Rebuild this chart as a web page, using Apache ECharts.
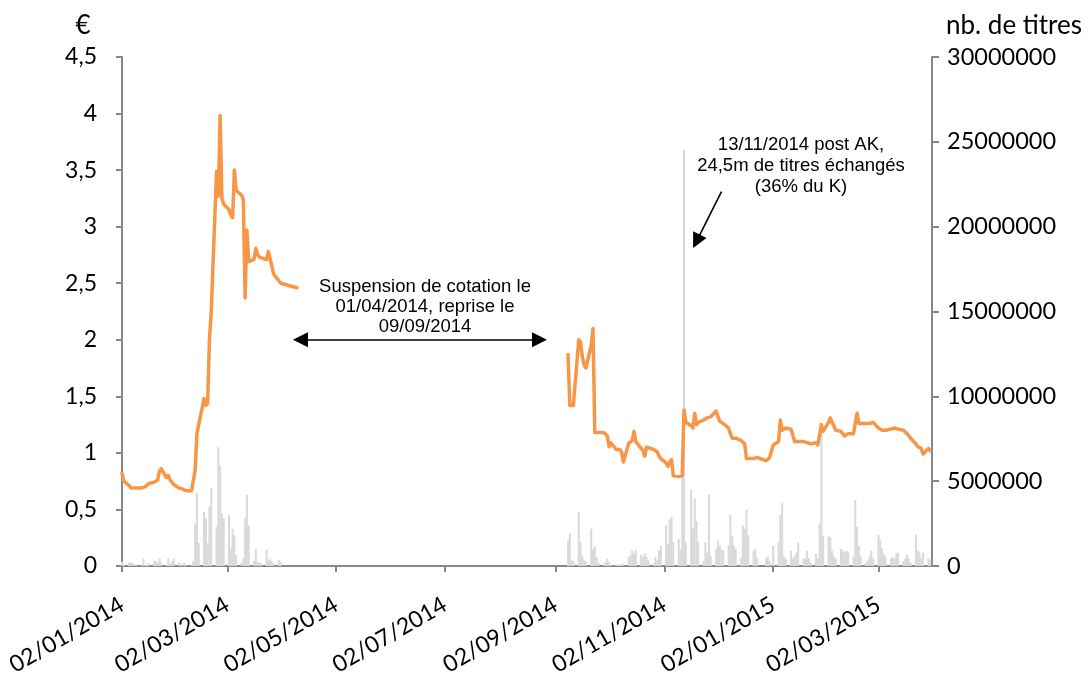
<!DOCTYPE html>
<html>
<head>
<meta charset="utf-8">
<script src="https://cdn.jsdelivr.net/npm/echarts@6/dist/echarts.min.js"></script>
<style>
html,body{margin:0;padding:0;background:#ffffff;}
#chart{width:1090px;height:677px;}
</style>
</head>
<body>
<div id="chart"></div>
<script>
// ---------- DATA ----------
const xTickLabels = ['02/01/2014','02/03/2014','02/05/2014','02/07/2014','02/09/2014','02/11/2014','02/01/2015','02/03/2015'];
const priceTicks = [0, 0.5, 1, 1.5, 2, 2.5, 3, 3.5, 4, 4.5];
const volumeTicks = [0, 5000000, 10000000, 15000000, 20000000, 25000000, 30000000];

// Period 1: before the suspension
const datesA = [
  '2014-01-02','2014-01-03','2014-01-06','2014-01-07','2014-01-08','2014-01-09','2014-01-10','2014-01-13','2014-01-14','2014-01-15','2014-01-16','2014-01-17','2014-01-20','2014-01-21','2014-01-22','2014-01-23','2014-01-24','2014-01-27','2014-01-28','2014-01-29','2014-01-30','2014-01-31',
  '2014-02-03','2014-02-04','2014-02-05','2014-02-06','2014-02-07','2014-02-10','2014-02-11','2014-02-12','2014-02-13','2014-02-14','2014-02-17','2014-02-18','2014-02-19','2014-02-20','2014-02-21','2014-02-24','2014-02-25','2014-02-26','2014-02-27','2014-02-28',
  '2014-03-03','2014-03-04','2014-03-05','2014-03-06','2014-03-07','2014-03-10','2014-03-11','2014-03-12','2014-03-13','2014-03-14','2014-03-17','2014-03-18','2014-03-19','2014-03-20','2014-03-21','2014-03-24','2014-03-25','2014-03-26','2014-03-27','2014-03-28','2014-03-31',
  '2014-04-01','2014-04-10'
];
const priceA = [
  0.82,0.75,0.71,0.69,0.69,0.69,0.69,0.69,0.70,0.70,0.71,0.73,0.74,0.74,0.76,0.84,0.86,0.78,0.80,0.76,0.745,0.72,
  0.69,0.69,0.68,0.67,0.665,0.665,0.67,0.85,1.17,1.25,1.48,1.42,1.44,2.00,2.24,3.49,3.27,3.98,3.25,3.20,
  3.15,3.10,3.08,3.50,3.32,3.28,3.24,2.37,2.97,2.69,2.71,2.81,2.75,2.73,2.72,2.71,2.78,2.78,2.65,2.58,2.52,
  2.50,2.46
];
const volumeA_M = [
  0.25,0.1,0.2,0.2,0.15,0.05,0.1,0.1,0.45,0.05,0.1,0.15,0.3,0.3,0.2,0.45,0.2,0.1,0.45,0.1,0.3,0.45,
  0.2,0.1,0.1,0.2,0.05,0.1,0.3,2.5,4.3,1.35,3.2,2.8,1.35,3.5,4.6,2.3,7.0,5.9,3.1,2.8,
  3.0,1.05,2.2,1.8,0.65,0.2,0.45,2.8,4.2,2.4,0.3,1.0,0.25,0.2,0.15,0.95,0.35,0.4,0.3,0.15,0.35,
  0.25,null
];

// Period 2: after trading resumed
const datesB = [
  '2014-09-09','2014-09-10','2014-09-11','2014-09-12','2014-09-15','2014-09-16','2014-09-17','2014-09-18','2014-09-19','2014-09-22','2014-09-23','2014-09-24','2014-09-25','2014-09-26','2014-09-29','2014-09-30',
  '2014-10-01','2014-10-02','2014-10-03','2014-10-06','2014-10-07','2014-10-08','2014-10-09','2014-10-10','2014-10-13','2014-10-14','2014-10-15','2014-10-16','2014-10-17','2014-10-20','2014-10-21','2014-10-22','2014-10-23','2014-10-24','2014-10-27','2014-10-28','2014-10-29','2014-10-30','2014-10-31',
  '2014-11-03','2014-11-04','2014-11-05','2014-11-06','2014-11-07','2014-11-10','2014-11-11','2014-11-12','2014-11-13','2014-11-14','2014-11-17','2014-11-18','2014-11-19','2014-11-20','2014-11-21','2014-11-24','2014-11-25','2014-11-26','2014-11-27','2014-11-28',
  '2014-12-01','2014-12-02','2014-12-03','2014-12-04','2014-12-05','2014-12-08','2014-12-09','2014-12-10','2014-12-11','2014-12-12','2014-12-15','2014-12-16','2014-12-17','2014-12-18','2014-12-19','2014-12-22','2014-12-23','2014-12-24','2014-12-29','2014-12-30','2014-12-31',
  '2015-01-02','2015-01-05','2015-01-06','2015-01-07','2015-01-08','2015-01-09','2015-01-12','2015-01-13','2015-01-14','2015-01-15','2015-01-16','2015-01-19','2015-01-20','2015-01-21','2015-01-22','2015-01-23','2015-01-26','2015-01-27','2015-01-28','2015-01-29','2015-01-30',
  '2015-02-02','2015-02-03','2015-02-04','2015-02-05','2015-02-06','2015-02-09','2015-02-10','2015-02-11','2015-02-12','2015-02-13','2015-02-16','2015-02-17','2015-02-18','2015-02-19','2015-02-20','2015-02-23','2015-02-24','2015-02-25','2015-02-26','2015-02-27',
  '2015-03-02','2015-03-03','2015-03-04','2015-03-05','2015-03-06','2015-03-09','2015-03-10','2015-03-11','2015-03-12','2015-03-13','2015-03-16','2015-03-17','2015-03-18','2015-03-19','2015-03-20','2015-03-23','2015-03-24','2015-03-25','2015-03-26','2015-03-27','2015-03-30','2015-03-31'
];
const priceB = [
  1.87,1.42,1.42,1.42,2.00,1.98,1.85,1.78,1.75,1.95,2.10,1.18,1.18,1.18,1.18,1.18,
  1.15,1.055,1.09,1.03,1.04,1.03,1.01,0.92,1.085,1.10,1.11,1.19,1.10,1.04,1.02,0.97,1.05,1.05,1.03,1.02,1.01,0.97,0.95,
  0.91,0.88,0.92,0.94,0.80,0.79,0.80,0.80,1.38,1.27,1.24,1.22,1.35,1.25,1.27,1.29,1.30,1.31,1.31,1.32,
  1.37,1.38,1.28,1.27,1.26,1.22,1.17,1.13,1.13,1.13,1.11,1.10,1.08,0.95,0.94,0.95,0.96,0.96,0.93,0.92,0.96,
  1.07,1.10,1.29,1.20,1.21,1.22,1.21,1.22,1.10,1.10,1.10,1.10,1.09,1.09,1.09,1.08,1.09,1.07,1.06,1.25,1.19,
  1.27,1.31,1.27,1.24,1.20,1.19,1.18,1.15,1.16,1.17,1.17,1.17,1.35,1.26,1.26,1.26,1.26,1.26,1.27,1.27,
  1.22,1.21,1.20,1.20,1.20,1.21,1.21,1.22,1.22,1.21,1.20,1.19,1.17,1.15,1.13,1.08,1.055,1.05,1.04,0.99,1.04,1.02
];
const volumeB_M = [
  1.5,1.9,0.33,0.28,3.2,1.4,0.6,0.33,0.24,2.2,1.0,1.15,0.53,0.2,0.14,0.24,
  0.43,0.24,0.08,0.08,0.08,0.08,0.08,0.14,0.53,0.63,0.92,0.73,0.92,0.67,0.53,0.73,0.53,0.33,0.15,0.53,0.33,0.92,1.2,
  2.4,1.3,2.75,2.9,1.4,1.6,1.0,5.35,24.5,1.4,4.5,2.2,4.0,2.65,1.4,0.3,1.4,0.8,4.2,0.6,
  1.0,1.5,1.2,1.0,0.9,1.2,3.0,1.8,1.2,1.0,0.5,2.4,2.2,3.3,1.8,0.9,1.0,0.45,0.45,0.55,0.3,
  1.2,1.4,3.0,3.7,0.55,0.45,0.9,0.45,0.63,0.8,1.4,0.45,0.45,0.9,0.45,0.2,0.73,0.45,2.5,8.0,1.8,
  1.75,1.7,0.9,0.6,0.45,1.0,0.9,0.8,0.9,0.8,0.55,3.9,2.3,1.2,0.55,0.2,0.35,0.55,0.9,0.45,
  1.85,1.5,1.05,0.73,0.55,0.45,0.55,0.45,0.73,0.8,0.3,0.45,0.67,0.45,0.2,1.85,0.9,0.8,0.45,0.8,0.45,0.35
];

// Annotations
const suspensionText = 'Suspension de cotation le\n01/04/2014, reprise le\n09/09/2014';
const suspensionArrow = { from: '2014-04-12', to: '2014-08-24', price: 2.0 };
const spikeText = '13/11/2014 post AK,\n24,5m de titres échangés\n(36% du K)';
const spikeArrow = { from: '2014-12-04', fromPrice: 3.31, to: '2014-11-20', toPrice: 2.87 };
const axisStart = '2014-01-02';
const axisEnd = '2015-04-01';

// ---------- HELPERS ----------
function iso(s) { const p = s.split('-').map(Number); return new Date(p[0], p[1] - 1, p[2]).getTime(); }
function dmy(s) { const p = s.split('/').map(Number); return new Date(p[2], p[1] - 1, p[0]).getTime(); }
const xTickValues = xTickLabels.map(dmy);
function pairs(dates, vals, mult) { return dates.map((d, i) => [iso(d), vals[i] == null ? null : vals[i] * mult]); }
function labelFor(v) {
  for (let i = 0; i < xTickValues.length; i++) { if (Math.abs(xTickValues[i] - v) < 3600000) return xTickLabels[i]; }
  return '';
}

const AXIS_GREY = '#878787';
const LABEL_FONT = 'Lato';

const chart = echarts.init(document.getElementById('chart'), null, { renderer: 'canvas' });
const option = {
  backgroundColor: '#ffffff',
  animation: false,
  grid: { left: 122, right: 158, top: 57, bottom: 111, containLabel: false, outerBoundsMode: 'none' },
  xAxis: {
    type: 'value',
    min: iso(axisStart),
    max: iso(axisEnd),
    scale: true,
    axisLine: { show: true, onZero: false, lineStyle: { color: AXIS_GREY, width: 2 } },
    axisTick: { show: true, customValues: xTickValues, length: 6, lineStyle: { color: AXIS_GREY, width: 2 } },
    axisLabel: {
      customValues: xTickValues,
      rotate: 30,
      margin: 37,
      color: '#000',
      fontFamily: LABEL_FONT,
      fontSize: 23,
      formatter: labelFor
    },
    splitLine: { show: false }
  },
  yAxis: [
    {
      type: 'value', min: priceTicks[0], max: priceTicks[priceTicks.length - 1], interval: 0.5,
      axisLine: { show: true, lineStyle: { color: AXIS_GREY, width: 2 } },
      axisTick: { show: true, length: 6, lineStyle: { color: AXIS_GREY, width: 2 } },
      axisLabel: { color: '#000', fontFamily: LABEL_FONT, fontSize: 23, margin: 25,
        formatter: v => String(v).replace('.', ',') },
      splitLine: { show: false }
    },
    {
      type: 'value', min: volumeTicks[0], max: volumeTicks[volumeTicks.length - 1], interval: 5000000,
      position: 'right',
      axisLine: { show: true, lineStyle: { color: AXIS_GREY, width: 2 } },
      axisTick: { show: true, length: 7, lineStyle: { color: AXIS_GREY, width: 2 } },
      axisLabel: { color: '#000', fontFamily: LABEL_FONT, fontSize: 23.5, margin: 15, formatter: v => String(v) },
      splitLine: { show: false }
    }
  ],
  graphic: [
    { type: 'text', x: 83, y: 26, style: { text: '€', fill: '#000', font: '26px Lato', align: 'center', verticalAlign: 'middle' } },
    { type: 'text', x: 1014, y: 26, style: { text: 'nb. de titres', fill: '#000', font: '26px Lato', align: 'center', verticalAlign: 'middle' } },
    { type: 'text', x: 425, y: 307, style: { text: suspensionText, fill: '#000', font: '18.5px "Liberation Sans"', lineHeight: 20, align: 'center', verticalAlign: 'middle' } },
    { type: 'text', x: 801, y: 166, style: { text: spikeText, fill: '#000', font: '18.5px "Liberation Sans"', lineHeight: 21, align: 'center', verticalAlign: 'middle' } }
  ],
  series: [
    {
      name: 'Volume', type: 'bar', yAxisIndex: 1, barWidth: 2,
      itemStyle: { color: '#D9D9D9' },
      data: pairs(datesA, volumeA_M, 1e6).concat(pairs(datesB, volumeB_M, 1e6)),
      z: 1
    },
    {
      name: 'Cours', type: 'line', yAxisIndex: 0, showSymbol: false, symbol: 'none',
      lineStyle: { color: '#F79646', width: 3.5, join: 'round', cap: 'round' },
      data: pairs(datesA, priceA, 1),
      z: 3,
      markLine: {
        silent: true, animation: false,
        symbol: ['triangle', 'triangle'], symbolSize: 15,
        lineStyle: { color: '#000', width: 1.6, type: 'solid' },
        itemStyle: { color: '#000' },
        label: { show: false },
        data: [
          [{ coord: [iso(suspensionArrow.from), suspensionArrow.price] }, { coord: [iso(suspensionArrow.to), suspensionArrow.price] }],
          [{ coord: [iso(spikeArrow.from), spikeArrow.fromPrice], symbol: 'none' }, { coord: [iso(spikeArrow.to), spikeArrow.toPrice], symbol: 'triangle' }]
        ]
      }
    },
    {
      name: 'Cours2', type: 'line', yAxisIndex: 0, showSymbol: false, symbol: 'none',
      lineStyle: { color: '#F79646', width: 3.5, join: 'round', cap: 'round' },
      data: pairs(datesB, priceB, 1),
      z: 3
    }
  ]
};
chart.setOption(option);
</script>
</body>
</html>
